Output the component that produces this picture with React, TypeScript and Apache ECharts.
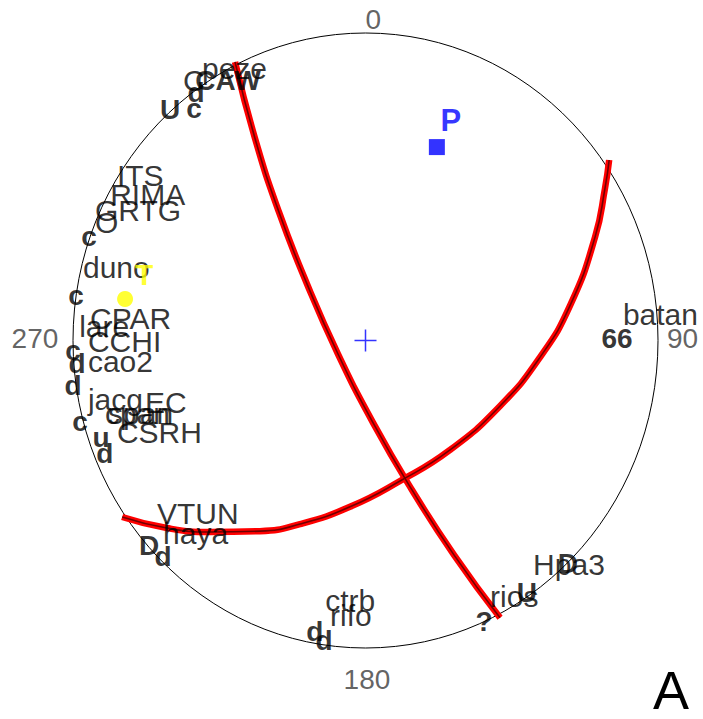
import { useEffect, useRef } from 'react';
import * as echarts from 'echarts';

// Focal sphere projection: x/y in unit-circle coordinates (north up, east right)

// Station names, anchored at the left edge of each label
const stationNames: [string, number, number][] = [
  ['peze', -0.559, 0.883],
  ['C', -0.624, 0.844],
  ['ITS', -0.85, 0.538],
  ['RIMA', -0.873, 0.476],
  ['GRTG', -0.925, 0.424],
  ['O', -0.925, 0.385],
  ['duno', -0.966, 0.236],
  ['CPAR', -0.942, 0.073],
  ['lare', -0.979, 0.047],
  ['CCHI', -0.949, -0.002],
  ['cao2', -0.949, -0.067],
  ['jacg', -0.949, -0.193],
  ['EC', -0.754, -0.2],
  ['cpan', -0.891, -0.236],
  ['span', -0.88, -0.236],
  ['CSRH', -0.85, -0.298],
  ['VTUN', -0.713, -0.564],
  ['haya', -0.692, -0.629],
  ['ctrb', -0.138, -0.847],
  ['rifo', -0.121, -0.893],
  ['rios', 0.426, -0.831],
  ['Hpa3', 0.573, -0.727],
  ['batan', 0.88, 0.086],
];

// First-motion polarity readings, centred on the station point
const polarities: [string, number, number][] = [
  ['U', -0.668, 0.75],
  ['c', -0.586, 0.753],
  ['d', -0.579, 0.808],
  ['CAW', -0.47, 0.844],
  ['c', -0.945, 0.337],
  ['c', -0.99, 0.145],
  ['c', -1.0, -0.031],
  ['d', -0.986, -0.076],
  ['d', -1.0, -0.145],
  ['c', -0.976, -0.265],
  ['u', -0.904, -0.317],
  ['d', -0.891, -0.369],
  ['D', -0.74, -0.668],
  ['d', -0.692, -0.701],
  ['d', -0.173, -0.945],
  ['d', -0.142, -0.977],
  ['?', 0.405, -0.915],
  ['U', 0.552, -0.818],
  ['D', 0.692, -0.724],
  ['66', 0.86, 0.008],
];

// Nodal planes traced as [x, y] points along each great circle
const nodalPlane1: [number, number][] = [
  [-0.446, 0.906],
  [-0.378, 0.658],
  [-0.296, 0.418],
  [-0.2, 0.184],
  [-0.094, -0.044],
  [0.026, -0.268],
  [0.159, -0.486],
  [0.303, -0.698],
  [0.46, -0.902],
];

const nodalPlane2: [number, number][] = [
  [-0.832, -0.574],
  [-0.679, -0.61],
  [-0.532, -0.623],
  [-0.361, -0.62],
  [-0.224, -0.597],
  [-0.053, -0.541],
  [0.118, -0.457],
  [0.289, -0.356],
  [0.46, -0.213],
  [0.597, -0.054],
  [0.7, 0.115],
  [0.785, 0.337],
  [0.819, 0.496],
  [0.833, 0.587],
];

// Pressure and tension axes
const pAxis: [number, number] = [0.244, 0.629];
const tAxis: [number, number] = [-0.822, 0.135];

// Azimuth tick labels around the rim
const azimuthLabels: [string, number, number][] = [
  ['0', 0.027, 1.044],
  ['90', 1.084, 0.005],
  ['180', 0.005, -1.101],
  ['270', -1.13, 0.005],
];

const GRID = { left: 73, top: 33, width: 585, height: 615 };
const FONT = '"Liberation Sans", Arial, Helvetica, sans-serif';

function planeSeries(data: [number, number][]) {
  return [
    {
      type: 'line',
      data,
      smooth: true,
      showSymbol: false,
      clip: false,
      silent: true,
      z: 2,
      lineStyle: { color: '#ff0000', width: 6.5 },
    },
    {
      type: 'line',
      data,
      smooth: true,
      showSymbol: false,
      clip: false,
      silent: true,
      z: 3,
      lineStyle: { color: '#700000', width: 1.6 },
    },
  ];
}

export default function App() {
  const ref = useRef<HTMLDivElement>(null);

  useEffect(() => {
    if (!ref.current) return;
    const chart = echarts.init(ref.current, undefined, { renderer: 'svg' });
    const cx = GRID.left + GRID.width / 2;
    const cy = GRID.top + GRID.height / 2;

    const option = {
      animation: false,
      backgroundColor: '#ffffff',
      grid: { ...GRID },
      xAxis: { type: 'value', min: -1, max: 1, show: false },
      yAxis: { type: 'value', min: -1, max: 1, show: false },
      graphic: [
        {
          type: 'ellipse',
          silent: true,
          z: 0,
          shape: { cx, cy, rx: GRID.width / 2, ry: GRID.height / 2 },
          style: { fill: 'none', stroke: '#000000', lineWidth: 1 },
        },
        {
          type: 'text',
          silent: true,
          x: 671,
          y: 690,
          style: {
            text: 'A',
            fontSize: 54,
            fontFamily: FONT,
            fill: '#000000',
            align: 'center',
            verticalAlign: 'middle',
          },
        },
      ],
      series: [
        ...planeSeries(nodalPlane1),
        ...planeSeries(nodalPlane2),
        {
          type: 'scatter',
          name: 'stations',
          clip: false,
          silent: true,
          symbolSize: 0,
          z: 5,
          data: stationNames.map(([n, x, y]) => ({ name: n, value: [x, y] })),
          label: {
            show: true,
            position: 'right',
            distance: 0,
            formatter: (p: any) => p.name,
            fontSize: 30,
            fontFamily: FONT,
            color: '#000000',
          },
        },
        {
          type: 'scatter',
          name: 'polarity',
          clip: false,
          silent: true,
          symbolSize: 0,
          z: 6,
          data: polarities.map(([n, x, y]) => ({ name: n, value: [x, y] })),
          label: {
            show: true,
            position: 'inside',
            formatter: (p: any) => p.name,
            fontSize: 28,
            fontWeight: 'bold',
            fontFamily: FONT,
            color: '#000000',
          },
        },
        {
          type: 'scatter',
          name: 'azimuth',
          clip: false,
          silent: true,
          symbolSize: 0,
          z: 5,
          data: azimuthLabels.map(([n, x, y]) => ({ name: n, value: [x, y] })),
          label: {
            show: true,
            position: 'inside',
            formatter: (p: any) => p.name,
            fontSize: 28,
            fontFamily: FONT,
            color: '#3a3a3a',
          },
        },
        {
          type: 'scatter',
          name: 'P',
          clip: false,
          silent: true,
          symbol: 'rect',
          symbolSize: 16,
          z: 7,
          itemStyle: { color: '#0000ff' },
          data: [{ name: 'P', value: pAxis }],
          label: {
            show: true,
            position: 'inside',
            offset: [14, -27],
            formatter: 'P',
            fontSize: 31,
            fontWeight: 'bold',
            fontFamily: FONT,
            color: '#0000ff',
          },
        },
        {
          type: 'scatter',
          name: 'T',
          clip: false,
          silent: true,
          symbol: 'circle',
          symbolSize: 16,
          z: 7,
          itemStyle: { color: '#ffff00' },
          data: [{ name: 'T', value: tAxis }],
          label: {
            show: true,
            position: 'inside',
            offset: [19, -24],
            formatter: 'T',
            fontSize: 30,
            fontWeight: 'bold',
            fontFamily: FONT,
            color: '#ffff00',
          },
        },
        {
          type: 'scatter',
          name: 'centre',
          clip: false,
          silent: true,
          symbol: 'path://M0 10 L20 10 M10 0 L10 20',
          symbolSize: 22,
          z: 7,
          itemStyle: { color: 'rgba(0,0,0,0)', borderColor: '#0000ff', borderWidth: 1.5 },
          data: [[0, 0]],
        },
      ],
    };

    chart.setOption(option as any);
    return () => chart.dispose();
  }, []);

  return (
    <div
      ref={ref}
      style={{ position: 'fixed', left: 0, top: 0, width: 703, height: 719, background: '#fff' }}
    />
  );
}
